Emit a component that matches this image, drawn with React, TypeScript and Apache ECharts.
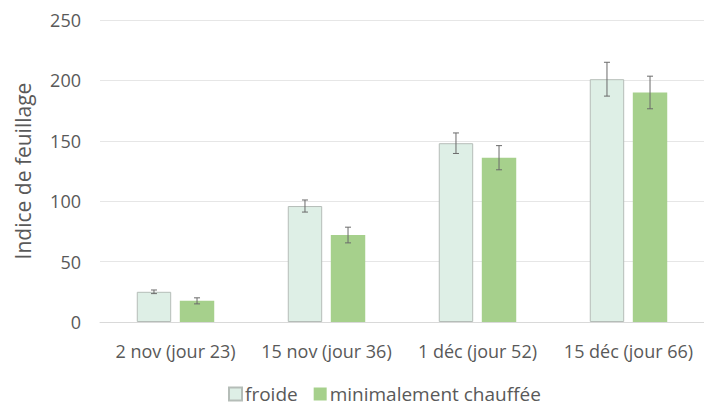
import React, { useEffect, useRef } from "react";
import * as echarts from "echarts";

const categories = ["2 nov (jour 23)", "15 nov (jour 36)", "1 déc (jour 52)", "15 déc (jour 66)"];
const froide = [25, 96, 148, 201];
const froideErr = [1.5, 5, 8.5, 14];
const chauffee = [17.5, 72, 136, 190];
const chauffeeErr = [2.5, 6.5, 10, 13.5];
const seriesNames = ["froide", "minimalement chauffée"];
const yTicks = [0, 50, 100, 150, 200, 250];

const BAR_W = 0.228;
const GAP = 0.25;

function errData(vals: number[], errs: number[]) {
  return vals.map((v, i) => [i, v - errs[i], v + errs[i]]);
}

function makeRender(idx: number) {
  return (params: any, api: any) => {
    const cat = api.value(0);
    const lo = api.coord([cat, api.value(1)]);
    const hi = api.coord([cat, api.value(2)]);
    const band = api.size([1, 0])[0];
    const bw = band * BAR_W;
    const gap = bw * GAP;
    const total = bw * 2 + gap;
    const cx = lo[0] - total / 2 + bw / 2 + idx * (bw + gap);
    const cap = 3;
    const style = { stroke: "#6b6b6b", lineWidth: 1 };
    return {
      type: "group",
      children: [
        { type: "line", shape: { x1: cx, y1: hi[1], x2: cx, y2: lo[1] }, style },
        { type: "line", shape: { x1: cx - cap, y1: hi[1], x2: cx + cap, y2: hi[1] }, style },
        { type: "line", shape: { x1: cx - cap, y1: lo[1], x2: cx + cap, y2: lo[1] }, style },
      ],
    };
  };
}

export default function App() {
  const ref = useRef<HTMLDivElement>(null);
  useEffect(() => {
    if (!ref.current) return;
    const chart = echarts.init(ref.current, null, { renderer: "svg" });
    const font = "'Open Sans', sans-serif";
    chart.setOption({
      animation: false,
      textStyle: { fontFamily: font },
      grid: { left: 100, top: 20, bottom: 90, width: 612 },
      legend: {
        data: seriesNames,
        left: 228,
        top: 383,
        padding: 0,
        itemWidth: 13,
        itemHeight: 13,
        itemGap: 16,
        icon: "rect",
        textStyle: { fontFamily: font, fontSize: 19, lineHeight: 22, color: "#595959", padding: [0, 0, 0, -2] },
      },
      xAxis: {
        type: "category",
        data: categories,
        axisTick: { show: false },
        axisLine: { lineStyle: { color: "#d9d9d9" } },
        axisLabel: { fontFamily: font, fontSize: 18, color: "#595959", margin: 20, interval: 0 },
      },
      yAxis: {
        type: "value",
        min: yTicks[0],
        max: yTicks[yTicks.length - 1],
        interval: 50,
        name: "Indice de feuillage",
        nameLocation: "middle",
        nameGap: 67,
        nameTextStyle: { fontFamily: font, fontSize: 21, color: "#595959" },
        axisLabel: { fontFamily: font, fontSize: 18, color: "#595959", margin: 19 },
        splitLine: { lineStyle: { color: "#e6e6e6" } },
        axisLine: { show: false },
        axisTick: { show: false },
      },
      series: [
        {
          name: seriesNames[0],
          type: "bar",
          data: froide,
          barWidth: BAR_W * 100 + "%",
          barGap: GAP * 100 + "%",
          itemStyle: { color: "#deefe6", borderColor: "#b5bdb8", borderWidth: 1 },
        },
        {
          name: seriesNames[1],
          type: "bar",
          data: chauffee,
          barWidth: BAR_W * 100 + "%",
          barGap: GAP * 100 + "%",
          itemStyle: { color: "#a6d08c" },
        },
        {
          type: "custom",
          renderItem: makeRender(0),
          data: errData(froide, froideErr),
          encode: { x: 0, y: [1, 2] },
          z: 10,
        },
        {
          type: "custom",
          renderItem: makeRender(1),
          data: errData(chauffee, chauffeeErr),
          encode: { x: 0, y: [1, 2] },
          z: 10,
        },
      ],
    });
    return () => chart.dispose();
  }, []);
  return <div ref={ref} style={{ width: 704, height: 412, position: "absolute", left: 0, top: 0 }} />;
}
